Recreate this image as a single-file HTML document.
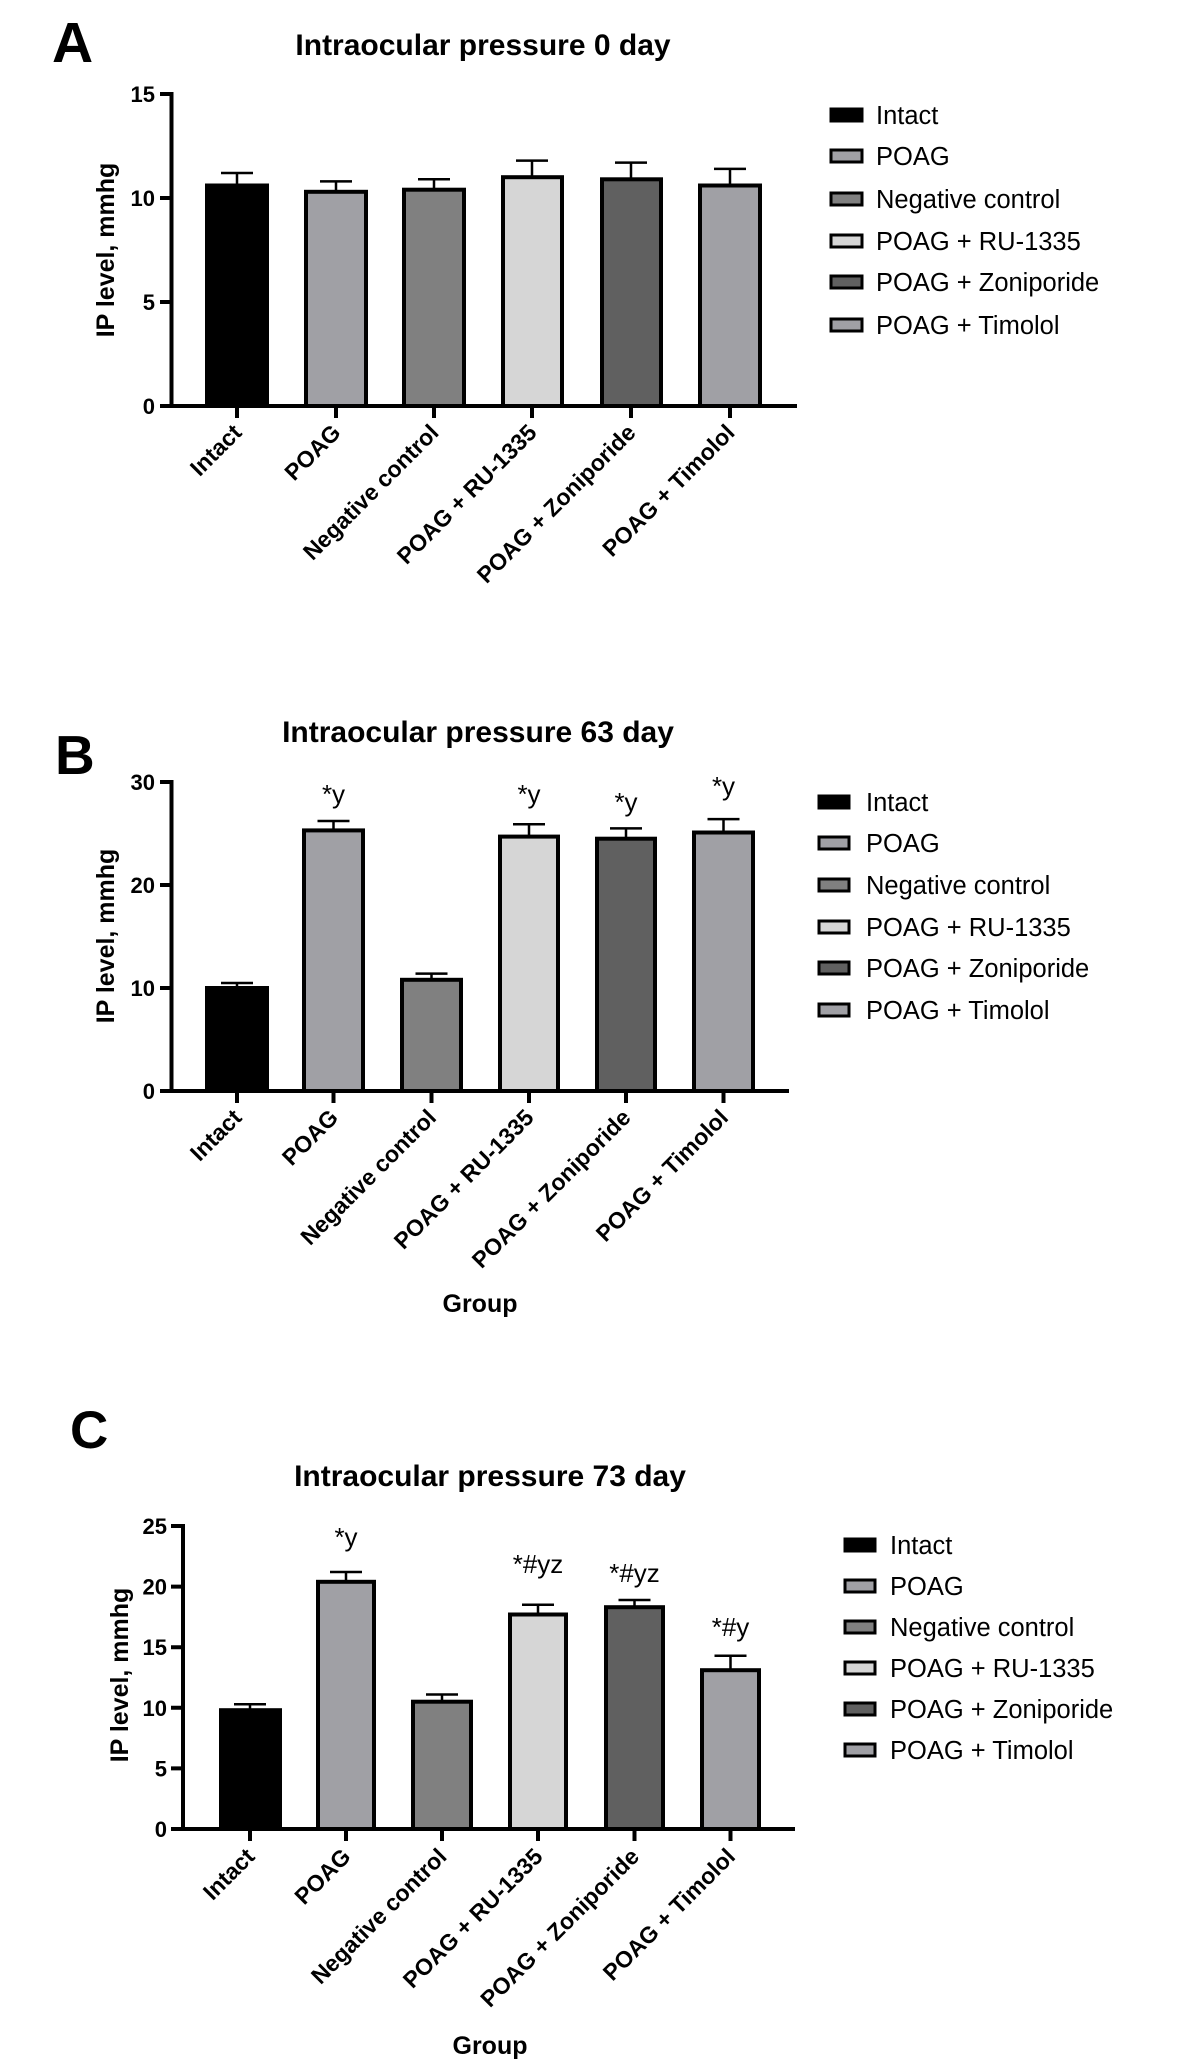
<!DOCTYPE html>
<html><head><meta charset="utf-8"><style>
html,body{margin:0;padding:0;background:#fff}
svg{display:block}
text{font-family:"Liberation Sans",Arial,sans-serif}
.b{font-weight:bold}
.t{font-weight:bold;font-size:30px;text-anchor:middle}
.tk{font-weight:bold;font-size:22px;text-anchor:end}
.xl{font-weight:bold;font-size:23px;text-anchor:end}
.lg{font-size:25.5px}
.an{font-size:26px;text-anchor:middle}
.bar{stroke:#000;stroke-width:4}
.eb{stroke:#000;stroke-width:2.5;fill:none}
.ax{stroke:#000;stroke-width:4;fill:none}
</style></head><body>
<svg width="1184" height="2070" viewBox="0 0 1184 2070" xmlns="http://www.w3.org/2000/svg">
<!-- ===== Panel A ===== -->
<text x="52" y="62" class="b" font-size="57">A</text>
<text x="483" y="55" class="t">Intraocular pressure 0 day</text>
<text transform="translate(114,250) rotate(-90)" class="b" font-size="25" text-anchor="middle">IP level, mmhg</text>
<g>
<rect class="bar" x="207" y="185.5" width="60" height="220.5" fill="#000"/>
<rect class="bar" x="306" y="191.8" width="60" height="214.2" fill="#a0a0a5"/>
<rect class="bar" x="404" y="189.7" width="60" height="216.3" fill="#808080"/>
<rect class="bar" x="503" y="177.2" width="59" height="228.8" fill="#d6d6d6"/>
<rect class="bar" x="602" y="179.3" width="59" height="226.7" fill="#606060"/>
<rect class="bar" x="700" y="185.5" width="60" height="220.5" fill="#a0a0a5"/>
<path class="eb" d="M237 185.5V173M221 173H253 M336 191.8V181.4M320 181.4H352 M434 189.7V179.3M418 179.3H450 M532 177.2V160.6M516 160.6H548 M631 179.3V162.6M615 162.6H647 M730 185.5V168.9M714 168.9H746"/>
</g>
<path class="ax" d="M171.5 92V406M160 406H797 M160 94H171.5 M160 198H171.5 M160 302H171.5 M237 406V418 M336 406V418 M434 406V418 M532 406V418 M631 406V418 M730 406V418"/>
<text x="155" y="102" class="tk">15</text>
<text x="155" y="206" class="tk">10</text>
<text x="155" y="310" class="tk">5</text>
<text x="155" y="414" class="tk">0</text>
<text class="xl" transform="translate(243,434) rotate(-45)">Intact</text>
<text class="xl" transform="translate(342,434) rotate(-45)">POAG</text>
<text class="xl" transform="translate(440,434) rotate(-45)">Negative control</text>
<text class="xl" transform="translate(538,434) rotate(-45)">POAG + RU-1335</text>
<text class="xl" transform="translate(637,434) rotate(-45)">POAG + Zoniporide</text>
<text class="xl" transform="translate(736,434) rotate(-45)">POAG + Timolol</text>
<g>
<rect x="831" y="109" width="31" height="12" fill="#000" stroke="#000" stroke-width="3"/>
<rect x="831" y="150" width="31" height="12" fill="#a0a0a5" stroke="#000" stroke-width="3"/>
<rect x="831" y="193" width="31" height="12" fill="#808080" stroke="#000" stroke-width="3"/>
<rect x="831" y="235" width="31" height="12" fill="#d6d6d6" stroke="#000" stroke-width="3"/>
<rect x="831" y="276" width="31" height="12" fill="#606060" stroke="#000" stroke-width="3"/>
<rect x="831" y="319" width="31" height="12" fill="#a0a0a5" stroke="#000" stroke-width="3"/>
<text x="876" y="124" class="lg">Intact</text>
<text x="876" y="165" class="lg">POAG</text>
<text x="876" y="208" class="lg">Negative control</text>
<text x="876" y="250" class="lg">POAG + RU-1335</text>
<text x="876" y="291" class="lg">POAG + Zoniporide</text>
<text x="876" y="334" class="lg">POAG + Timolol</text>
</g>

<!-- ===== Panel B ===== -->
<text x="55" y="774" class="b" font-size="55">B</text>
<text x="478" y="742" class="t">Intraocular pressure 63 day</text>
<text transform="translate(114,936) rotate(-90)" class="b" font-size="25" text-anchor="middle">IP level, mmhg</text>
<rect class="bar" x="207" y="988" width="60" height="103" fill="#000"/>
<rect class="bar" x="304" y="830.4" width="59" height="260.6" fill="#a0a0a5"/>
<rect class="bar" x="402" y="979.8" width="59" height="111.2" fill="#808080"/>
<rect class="bar" x="500" y="836.6" width="58" height="254.4" fill="#d6d6d6"/>
<rect class="bar" x="597" y="838.7" width="58" height="252.3" fill="#606060"/>
<rect class="bar" x="694" y="832.5" width="59" height="258.5" fill="#a0a0a5"/>
<path class="eb" d="M237 988V983M221 983H253 M333.5 830.4V821M317.5 821H349.5 M431.5 979.8V973.6M415.5 973.6H447.5 M529 836.6V824.2M513 824.2H545 M626 838.7V828.4M610 828.4H642 M723.5 832.5V819.1M707.5 819.1H739.5"/>
<path class="ax" d="M171.5 780V1091M160 1091H789 M160 782H171.5 M160 885H171.5 M160 988H171.5 M237 1091V1103 M333.5 1091V1103 M431.5 1091V1103 M529 1091V1103 M626 1091V1103 M723.5 1091V1103"/>
<text x="155" y="790" class="tk">30</text>
<text x="155" y="893" class="tk">20</text>
<text x="155" y="996" class="tk">10</text>
<text x="155" y="1099" class="tk">0</text>
<text x="333.5" y="803" class="an">*y</text>
<text x="529" y="803" class="an">*y</text>
<text x="626" y="811" class="an">*y</text>
<text x="723.5" y="795" class="an">*y</text>
<text class="xl" transform="translate(243,1119) rotate(-45)">Intact</text>
<text class="xl" transform="translate(339.5,1119) rotate(-45)">POAG</text>
<text class="xl" transform="translate(437.5,1119) rotate(-45)">Negative control</text>
<text class="xl" transform="translate(535,1119) rotate(-45)">POAG + RU-1335</text>
<text class="xl" transform="translate(632,1119) rotate(-45)">POAG + Zoniporide</text>
<text class="xl" transform="translate(729.5,1119) rotate(-45)">POAG + Timolol</text>
<text x="480" y="1312" class="b" font-size="25" text-anchor="middle">Group</text>
<g>
<rect x="819" y="796" width="30" height="12" fill="#000" stroke="#000" stroke-width="3"/>
<rect x="819" y="837" width="30" height="12" fill="#a0a0a5" stroke="#000" stroke-width="3"/>
<rect x="819" y="879" width="30" height="12" fill="#808080" stroke="#000" stroke-width="3"/>
<rect x="819" y="921" width="30" height="12" fill="#d6d6d6" stroke="#000" stroke-width="3"/>
<rect x="819" y="962" width="30" height="12" fill="#606060" stroke="#000" stroke-width="3"/>
<rect x="819" y="1004" width="30" height="12" fill="#a0a0a5" stroke="#000" stroke-width="3"/>
<text x="866" y="811" class="lg">Intact</text>
<text x="866" y="852" class="lg">POAG</text>
<text x="866" y="894" class="lg">Negative control</text>
<text x="866" y="936" class="lg">POAG + RU-1335</text>
<text x="866" y="977" class="lg">POAG + Zoniporide</text>
<text x="866" y="1019" class="lg">POAG + Timolol</text>
</g>

<!-- ===== Panel C ===== -->
<text x="70" y="1448" class="b" font-size="53">C</text>
<text x="490" y="1486" class="t">Intraocular pressure 73 day</text>
<text transform="translate(128,1675) rotate(-90)" class="b" font-size="25" text-anchor="middle">IP level, mmhg</text>
<rect class="bar" x="221" y="1710.2" width="59" height="118.8" fill="#000"/>
<rect class="bar" x="318" y="1581.8" width="56" height="247.2" fill="#a0a0a5"/>
<rect class="bar" x="413" y="1701.7" width="58" height="127.3" fill="#808080"/>
<rect class="bar" x="510" y="1614.5" width="56" height="214.5" fill="#d6d6d6"/>
<rect class="bar" x="606" y="1607.2" width="57" height="221.8" fill="#606060"/>
<rect class="bar" x="702" y="1670.2" width="57" height="158.8" fill="#a0a0a5"/>
<path class="eb" d="M250 1710.2V1704.2M234 1704.2H266 M346 1581.8V1572M330 1572H362 M442 1701.7V1694.5M426 1694.5H458 M538 1614.5V1604.8M522 1604.8H554 M634.5 1607.2V1600M618.5 1600H650.5 M730.5 1670.2V1655.7M714.5 1655.7H746.5"/>
<path class="ax" d="M183 1524V1829M171 1829H795 M171 1526H183 M171 1586.6H183 M171 1647.2H183 M171 1707.8H183 M171 1768.4H183 M250 1829V1841 M346 1829V1841 M442 1829V1841 M538 1829V1841 M634.5 1829V1841 M730.5 1829V1841"/>
<text x="167" y="1534" class="tk">25</text>
<text x="167" y="1594.6" class="tk">20</text>
<text x="167" y="1655.2" class="tk">15</text>
<text x="167" y="1715.8" class="tk">10</text>
<text x="167" y="1776.4" class="tk">5</text>
<text x="167" y="1837" class="tk">0</text>
<text x="346" y="1546" class="an">*y</text>
<text x="538" y="1573" class="an">*#yz</text>
<text x="634.5" y="1582" class="an">*#yz</text>
<text x="730.5" y="1636" class="an">*#y</text>
<text class="xl" transform="translate(256,1858) rotate(-45)">Intact</text>
<text class="xl" transform="translate(352,1858) rotate(-45)">POAG</text>
<text class="xl" transform="translate(448,1858) rotate(-45)">Negative control</text>
<text class="xl" transform="translate(544,1858) rotate(-45)">POAG + RU-1335</text>
<text class="xl" transform="translate(640.5,1858) rotate(-45)">POAG + Zoniporide</text>
<text class="xl" transform="translate(736.5,1858) rotate(-45)">POAG + Timolol</text>
<text x="490" y="2054" class="b" font-size="25" text-anchor="middle">Group</text>
<g>
<rect x="845" y="1539" width="30" height="12" fill="#000" stroke="#000" stroke-width="3"/>
<rect x="845" y="1580" width="30" height="12" fill="#a0a0a5" stroke="#000" stroke-width="3"/>
<rect x="845" y="1621" width="30" height="12" fill="#808080" stroke="#000" stroke-width="3"/>
<rect x="845" y="1662" width="30" height="12" fill="#d6d6d6" stroke="#000" stroke-width="3"/>
<rect x="845" y="1703" width="30" height="12" fill="#606060" stroke="#000" stroke-width="3"/>
<rect x="845" y="1744" width="30" height="12" fill="#a0a0a5" stroke="#000" stroke-width="3"/>
<text x="890" y="1554" class="lg">Intact</text>
<text x="890" y="1595" class="lg">POAG</text>
<text x="890" y="1636" class="lg">Negative control</text>
<text x="890" y="1677" class="lg">POAG + RU-1335</text>
<text x="890" y="1718" class="lg">POAG + Zoniporide</text>
<text x="890" y="1759" class="lg">POAG + Timolol</text>
</g>
</svg>
</body></html>
